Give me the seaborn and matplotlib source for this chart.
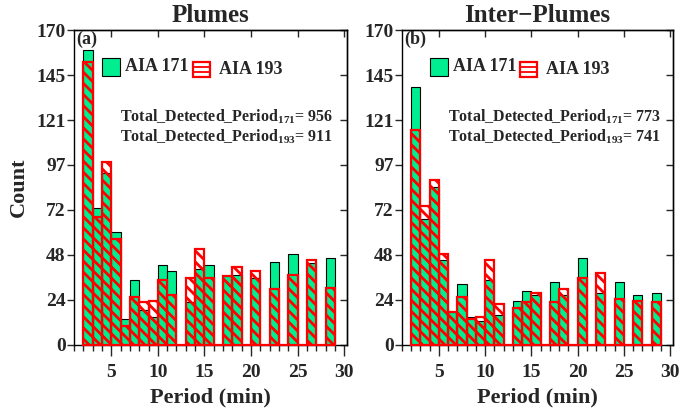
import numpy as np
import matplotlib
matplotlib.use("Agg")
import matplotlib.pyplot as plt
import seaborn as sns
from matplotlib.patches import Rectangle
from matplotlib.lines import Line2D

# ---------------- data ----------------
period_centers = [2.5 + k for k in range(27)]          # 1-min bins from 2 to 29 min

plumes_171 = [159, 74, 93, 61, 14, 35, 19, 15, 43, 40, 0, 23, 41, 43, 0, 37, 38, 0,
              36, 0, 45, 0, 49, 0, 44, 0, 47]
plumes_193 = [153, 69, 99, 57, 10, 26, 23, 24, 35, 27, 0, 36, 52, 36, 0, 37, 42, 0,
              40, 0, 30, 0, 38, 0, 46, 0, 31]
inter_171 = [139, 68, 85, 46, 18, 33, 15, 13, 35, 16, 0, 24, 29, 27, 0, 34, 27, 0,
             47, 0, 28, 0, 34, 0, 27, 0, 28]
inter_193 = [116, 75, 89, 49, 18, 26, 14, 15, 46, 22, 0, 20, 23, 28, 0, 23, 30, 0,
             36, 0, 39, 0, 25, 0, 24, 0, 23]

titles = ["Plumes", "Inter\u2212Plumes"]
panel_labels = ["(a)", "(b)"]
totals_171 = [956, 773]
totals_193 = [911, 741]

x_major = [5, 10, 15, 20, 25, 30]
y_ticks = np.linspace(0, 170, 8)
y_ticklabels = ["0", "24", "48", "72", "97", "121", "145", "170"]

GREEN = "#00EE90"
RED = "#FF0000"

# ---------------- style ----------------
sns.set_style("ticks")
plt.rcParams["font.family"] = ["Liberation Serif", "DejaVu Serif"]
plt.rcParams["font.weight"] = "bold"
plt.rcParams["mathtext.fontset"] = "custom"
plt.rcParams["mathtext.rm"] = "Liberation Serif:bold"
plt.rcParams["mathtext.bf"] = "Liberation Serif:bold"
plt.rcParams["mathtext.it"] = "Liberation Serif:bold:italic"
plt.rcParams["hatch.linewidth"] = 2.0
plt.rcParams["hatch.color"] = RED
plt.rcParams["axes.linewidth"] = 1.0

fig = plt.figure(figsize=(6.8, 4.11), dpi=100)
ax1 = fig.add_axes([0.1088, 0.1606, 0.4015, 0.7664])
ax2 = fig.add_axes([0.5910, 0.1606, 0.3985, 0.7664])

datasets = [(plumes_171, plumes_193), (inter_171, inter_193)]

for i, (ax, (v171, v193)) in enumerate(zip([ax1, ax2], datasets)):
    sns.barplot(x=period_centers, y=v171, native_scale=True, width=1, color=GREEN,
                saturation=1, edgecolor="black", linewidth=0.8, errorbar=None, ax=ax)
    sns.barplot(x=period_centers, y=v193, native_scale=True, width=1, color=RED,
                saturation=1, fill=False, hatch="\\\\\\", linewidth=1.6,
                errorbar=None, ax=ax)
    for p in ax.patches[len(v171):]:
        p.set_edgecolor(RED)
        p.set_facecolor("none")
        p.set_clip_on(False)
        p.set_zorder(3)

    ax.set_xlim(1.15, 30.3)
    ax.set_ylim(0, 170)
    ax.set_xticks(x_major)
    ax.set_xticks(range(1, 31), minor=True)
    ax.set_xticklabels([str(t) for t in x_major])
    ax.set_yticks(y_ticks)
    ax.set_yticklabels(y_ticklabels)
    ax.tick_params(axis="x", which="major", direction="out", length=8, width=1,
                   labelsize=14, pad=6)
    ax.tick_params(axis="x", which="minor", direction="out", length=4, width=1)
    ax.tick_params(axis="y", which="major", direction="out", length=5, width=1,
                   labelsize=14, pad=1)
    for s in ax.spines.values():
        s.set_visible(True)
        s.set_color("black")

    top = ax.secondary_xaxis("top")
    top.set_xticks(x_major)
    top.tick_params(direction="in", length=5, width=1, labeltop=False)
    right = ax.secondary_yaxis("right")
    right.set_yticks(y_ticks)
    right.tick_params(direction="in", length=5, width=1, labelright=False)

    ax.set_xlabel("Period (min)", fontsize=16, fontweight="bold", labelpad=4)
    ax.set_title(titles[i], fontsize=18, fontweight="bold", pad=6)
    if i == 0:
        ax.set_ylabel("Count", fontsize=16, fontweight="bold", labelpad=5)
    else:
        ax.set_ylabel("")

    ax.text(0.008, 0.998, panel_labels[i], transform=ax.transAxes, ha="left", va="top",
            fontsize=13, fontweight="bold")

    # legend
    ax.add_patch(Rectangle((0.102, 0.854), 0.068, 0.058, transform=ax.transAxes,
                           facecolor=GREEN, edgecolor="black", linewidth=0.8,
                           clip_on=False))
    ax.text(0.187, 0.8835, "AIA 171", transform=ax.transAxes, ha="left", va="center",
            fontsize=13, fontweight="bold")
    lx0, ly0, lw, lh = 0.437, 0.851, 0.063, 0.048
    ax.add_patch(Rectangle((lx0, ly0), lw, lh, transform=ax.transAxes,
                           facecolor="white", edgecolor=RED, linewidth=1.6,
                           clip_on=False, zorder=4))
    for frac in (1 / 3, 2 / 3):
        ax.add_line(Line2D([lx0, lx0 + lw], [ly0 + frac * lh, ly0 + frac * lh],
                           transform=ax.transAxes, color=RED, linewidth=1.3,
                           clip_on=False, zorder=5))
    ax.text(0.531, 0.875, "AIA 193", transform=ax.transAxes, ha="left", va="center",
            fontsize=13, fontweight="bold")

    ax.text(0.17, 0.725, "Total_Detected_Period$_{171}$= %d" % totals_171[i],
            transform=ax.transAxes, ha="left", va="center", fontsize=11.5,
            fontweight="bold")
    ax.text(0.17, 0.661, "Total_Detected_Period$_{193}$= %d" % totals_193[i],
            transform=ax.transAxes, ha="left", va="center", fontsize=11.5,
            fontweight="bold")

fig.savefig("out.png", dpi=100)
